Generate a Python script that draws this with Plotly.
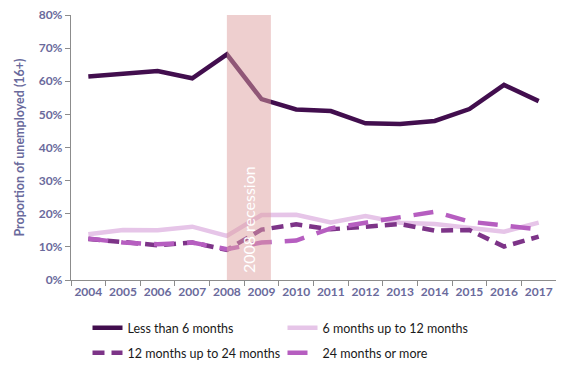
import plotly.graph_objects as go

years = list(range(2004, 2018))
less_6 = [61.4, 62.2, 63.1, 60.9, 68.1, 54.6, 51.5, 51.0, 47.3, 47.1, 48.0, 51.6, 58.9, 54.0]
m6_12 = [13.8, 15.1, 15.0, 16.1, 13.3, 19.6, 19.7, 17.4, 19.3, 17.3, 16.9, 15.9, 14.6, 17.3]
m12_24 = [12.4, 11.5, 10.5, 11.3, 9.1, 15.2, 16.8, 15.3, 16.1, 16.9, 14.9, 15.1, 10.1, 13.1]
m24_plus = [12.5, 11.3, 10.8, 11.3, 9.3, 11.3, 11.9, 15.6, 17.3, 18.8, 20.6, 17.6, 16.3, 15.3]

names = ["Less than 6 months", "6 months up to 12 months",
         "12 months up to 24 months", "24 months or more"]
series = [less_6, m6_12, m12_24, m24_plus]
colors = ["#420E4E", "#E6C5E8", "#7D3488", "#B65EC0"]
dashes = ["solid", "solid", "12px,7px", "20px,13px"]
legend_ids = ["legend", "legend2", "legend3", "legend4"]

axis_color = "#6A6A9C"
font_family = "Lato, 'Open Sans', sans-serif"

# page body has an 8px margin, so figure is 556x360 placed at (8, 8)
W, H = 556, 360

fig = go.Figure()
for name, vals, col, dash, lg in zip(names, series, colors, dashes, legend_ids):
    fig.add_trace(go.Scatter(
        x=years, y=[v / 100 for v in vals], name=name, mode="lines",
        line=dict(color=col, width=4.5, dash=dash), legend=lg,
    ))

fig.add_shape(type="rect", xref="x", yref="paper", x0=2008, x1=2009.27, y0=0, y1=1,
              fillcolor="rgba(222,160,160,0.5)", line=dict(width=0), layer="above")
fig.add_annotation(x=2008.63, y=0.183, xref="x", yref="y", text="2008 recession",
                   textangle=-90, showarrow=False,
                   font=dict(family=font_family, size=16, color="white"))

legend_common = dict(orientation="h", xref="container", yref="container",
                     xanchor="left", yanchor="middle", valign="middle",
                     font=dict(family=font_family, size=12.5, color="#1A1A1A"),
                     bgcolor="rgba(0,0,0,0)")
col_x = [79.5, 274.5]
row_y = [320, 345]

fig.update_layout(
    width=W, height=H,
    margin=dict(l=63, r=8, t=7, b=88, autoexpand=False),
    plot_bgcolor="white", paper_bgcolor="white",
    font=dict(family=font_family, size=12, color=axis_color),
    showlegend=True,
    legend=dict(x=col_x[0] / W, y=1 - row_y[0] / H, **legend_common),
    legend2=dict(x=col_x[1] / W, y=1 - row_y[0] / H, **legend_common),
    legend3=dict(x=col_x[0] / W, y=1 - row_y[1] / H, **legend_common),
    legend4=dict(x=col_x[1] / W, y=1 - row_y[1] / H, **legend_common),
)
fig.update_xaxes(
    range=[2003.5, 2017.5], tickmode="array", tickvals=years,
    ticktext=[str(y) for y in years], ticks="", showgrid=False,
    showline=True, linecolor="#8C8C8C", linewidth=1.3,
    tickfont=dict(family=font_family, size=12, color=axis_color, weight="bold"),
    minor=dict(tickmode="array", tickvals=[y - 0.5 for y in years] + [2017.5],
               ticks="outside", ticklen=5, tickcolor="#8C8C8C", showgrid=False),
    ticklabeloverflow="allow",
    zeroline=False,
)
fig.update_yaxes(
    range=[0, 0.8], dtick=0.1, tickformat=".0%", showgrid=False,
    showline=True, linecolor="#8C8C8C", linewidth=1.3,
    ticks="outside", ticklen=5, tickcolor="#8C8C8C",
    tickfont=dict(family=font_family, size=12, color=axis_color, weight="bold"),
    ticklabeloverflow="allow",
    title=dict(text="Proportion of unemployed (16+)", standoff=11,
               font=dict(family=font_family, size=12.5, color=axis_color, weight="bold")),
    zeroline=False,
)

fig.write_html("out.html")
